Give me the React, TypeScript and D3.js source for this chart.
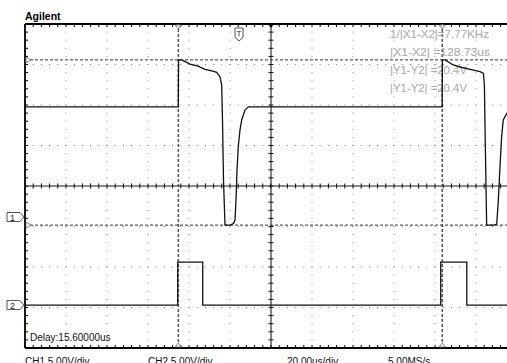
import React from "react";
import * as d3 from "d3";

const W = 507;
const H = 363;

// Scope settings
const timePerDiv = 20; // us/div
const ch1VoltsPerDiv = 5;
const ch2VoltsPerDiv = 5;
const delayUs = 15.6;
const ch1OffsetDiv = -0.766; // ground reference, divisions from centre
const ch2OffsetDiv = -2.94;

// Cursor positions
const cursorX = [-29.6, 99.13]; // us
const cursorY = [19.4, -1.0]; // V on CH1

// CH1 trace: [time us, volts]
const ch1Trace: [number, number][] = [
  [-104.4, 13.6],
  [-29.62, 13.6],
  [-29.5, 19.4],
  [-27.96, 19.39],
  [-23.9, 18.89],
  [-20.0, 18.64],
  [-16.6, 18.24],
  [-13.2, 18.03],
  [-10.9, 17.87],
  [-9.3, 17.32],
  [-8.45, 16.3],
  [-8.06, 11.98],
  [-7.57, 4.57],
  [-6.84, -1.0],
  [-4.4, -1.0],
  [-2.69, -0.8],
  [-1.96, -0.37],
  [-1.47, 2.1],
  [-0.98, 5.8],
  [-0.36, 8.68],
  [0.47, 10.74],
  [1.3, 11.98],
  [2.9, 13.21],
  [4.53, 13.6],
  [99.1, 13.6],
  [99.2, 19.4],
  [100.5, 19.39],
  [104.5, 18.77],
  [108.8, 18.46],
  [112.7, 18.24],
  [117.6, 17.94],
  [119.2, 17.74],
  [119.7, 16.3],
  [120.1, 9.51],
  [120.8, -1.0],
  [124.4, -1.0],
  [125.7, -0.86],
  [126.5, 2.1],
  [127.3, 6.21],
  [128.1, 9.92],
  [128.9, 11.98],
  [130.2, 12.6],
  [131.2, 13.0],
];

// CH2 trace: [time us, volts]
const ch2Trace: [number, number][] = [
  [-104.4, 0],
  [-29.9, 0],
  [-29.9, 5.3],
  [-17.7, 5.3],
  [-17.7, 0],
  [98.4, 0],
  [98.4, 5.3],
  [111.1, 5.3],
  [111.1, 0],
  [135.6, 0],
];

const readouts = [
  "1/|X1-X2|=7.77KHz",
  "|X1-X2| =128.73us",
  "|Y1-Y2| =20.4V",
  "|Y1-Y2| =20.4V",
];
const readoutWidths = [99, 100, 77, 77];

const footerLabels = ["CH1 5.00V/div", "CH2 5.00V/div", "20.00us/div", "5.00MS/s"];
const footerX = [25, 148, 287, 388];

const delayLabel = "Delay:15.60000us";

const HDIV = 12;
const VDIV = 8;

export default function App() {
  const left = 25;
  const right = 517;
  const xDiv = d3.scaleLinear().domain([0, HDIV]).range([left, right]);
  const yDiv = d3.scaleLinear().domain([-VDIV / 2, VDIV / 2]).range([348, 24]);
  const top = yDiv(VDIV / 2);
  const bottom = yDiv(-VDIV / 2);
  const half = (HDIV / 2) * timePerDiv;
  const xTime = d3
    .scaleLinear()
    .domain([delayUs - half, delayUs + half])
    .range([left, right]);
  const yCh1 = (v: number) => yDiv(v / ch1VoltsPerDiv + ch1OffsetDiv);
  const yCh2 = (v: number) => yDiv(v / ch2VoltsPerDiv + ch2OffsetDiv);

  const line1 = d3
    .line<[number, number]>()
    .x((d) => xTime(d[0]))
    .y((d) => yCh1(d[1]));
  const line2 = d3
    .line<[number, number]>()
    .x((d) => xTime(d[0]))
    .y((d) => yCh2(d[1]));

  const cx = xDiv(HDIV / 2);
  const cy = yDiv(0);

  // grid dots along each division line, one per minor tick
  const dots: { x: number; y: number }[] = [];
  for (let k = 1; k < HDIV; k++) {
    if (k === HDIV / 2) continue;
    for (let j = -VDIV * 5 / 2; j <= VDIV * 5 / 2; j++) {
      dots.push({ x: xDiv(k), y: yDiv(j / 5) });
    }
  }
  for (let k = -VDIV / 2 + 1; k < VDIV / 2; k++) {
    if (k === 0) continue;
    for (let j = 0; j <= HDIV * 5; j++) {
      dots.push({ x: xDiv(j / 5), y: yDiv(k) });
    }
  }

  const hTicks = d3.range(0, HDIV * 5 + 1).map((j) => xDiv(j / 5));
  const vTicks = d3.range(-VDIV * 5 / 2, VDIV * 5 / 2 + 1).map((j) => yDiv(j / 5));

  const font = "'Liberation Sans', Arial, sans-serif";

  const chanMarker = (label: string, yTip: number) => (
    <g key={label}>
      <path
        d={`M7,${yTip - 4.5} H20 L${left - 1},${yTip} L20,${yTip + 4.5} H7 Z`}
        fill="#fff"
        stroke="#555"
        strokeWidth={1}
      />
      <text x={12.5} y={yTip + 3.5} fontSize={9} fontFamily={font} textAnchor="middle" fill="#222">
        {label}
      </text>
    </g>
  );

  return (
    <svg
      width={W}
      height={H}
      style={{ position: "absolute", left: 0, top: 0, background: "#fff" }}
    >
      <rect x={0} y={0} width={W} height={H} fill="#fff" />

      {/* grid dots */}
      {dots.map((d, i) => (
        <rect key={i} x={d.x - 0.5} y={d.y - 0.5} width={1} height={1} fill="#8a8a8a" />
      ))}

      {/* centre axes */}
      <line x1={left} x2={right} y1={cy} y2={cy} stroke="#666" strokeWidth={1.6} />
      <line x1={cx} x2={cx} y1={top} y2={bottom} stroke="#666" strokeWidth={1.6} />
      {hTicks.map((x, i) => (
        <line key={"hc" + i} x1={x} x2={x} y1={cy - 2.5} y2={cy + 2.5} stroke="#111" strokeWidth={1} />
      ))}
      {vTicks.map((y, i) => (
        <line key={"vc" + i} x1={cx - 2.5} x2={cx + 2.5} y1={y} y2={y} stroke="#111" strokeWidth={1} />
      ))}

      {/* frame */}
      <line x1={left} x2={right} y1={top} y2={top} stroke="#000" strokeWidth={1.8} />
      <line x1={left} x2={right} y1={bottom} y2={bottom} stroke="#000" strokeWidth={1.8} />
      <line x1={left} x2={left} y1={top} y2={bottom} stroke="#000" strokeWidth={1.8} />
      {hTicks.map((x, i) => (
        <g key={"ft" + i}>
          <line x1={x} x2={x} y1={top} y2={top + 3} stroke="#000" strokeWidth={1} />
          <line x1={x} x2={x} y1={bottom - 3} y2={bottom} stroke="#000" strokeWidth={1} />
        </g>
      ))}
      {vTicks.map((y, i) => (
        <line key={"fl" + i} x1={left} x2={left + 3} y1={y} y2={y} stroke="#000" strokeWidth={1} />
      ))}

      {/* cursors */}
      {cursorX.map((t, i) => (
        <g key={"cx" + i}>
          <line
            x1={xTime(t)}
            x2={xTime(t)}
            y1={top}
            y2={bottom}
            stroke="#555"
            strokeWidth={1.5}
            strokeDasharray="3,2"
          />
          <path
            d={`M${xTime(t) - 3},${top + 1} L${xTime(t) + 3},${top + 1} L${xTime(t)},${top + 5} Z`}
            fill="#fff"
            stroke="#666"
            strokeWidth={0.8}
          />
          <path
            d={`M${xTime(t) - 3},${bottom - 1} L${xTime(t) + 3},${bottom - 1} L${xTime(t)},${bottom - 5} Z`}
            fill="#fff"
            stroke="#666"
            strokeWidth={0.8}
          />
        </g>
      ))}
      {cursorY.map((v, i) => (
        <g key={"cy" + i}>
          <line
            x1={left}
            x2={W}
            y1={yCh1(v)}
            y2={yCh1(v)}
            stroke="#333"
            strokeWidth={1}
            strokeDasharray="3,2"
          />
          <path
            d={`M${left + 1},${yCh1(v) - 3} L${left + 1},${yCh1(v) + 3} L${left + 6},${yCh1(v)} Z`}
            fill="#fff"
            stroke="#666"
            strokeWidth={0.8}
          />
        </g>
      ))}

      {/* delay reference and trigger point */}
      <path d={`M${cx - 3},${top} L${cx + 3},${top} L${cx},${top + 4} Z`} fill="#000" />
      <g>
        <path
          d={`M${xTime(0) - 4},${top + 4} H${xTime(0) + 4} V${top + 13.5} L${xTime(0)},${top + 17} L${xTime(0) - 4},${top + 13.5} Z`}
          fill="#fff"
          stroke="#444"
          strokeWidth={0.9}
        />
        <text x={xTime(0)} y={top + 12} fontSize={8} fontFamily={font} textAnchor="middle" fill="#222">
          T
        </text>
      </g>

      {/* cursor readouts */}
      {readouts.map((s, i) => (
        <text
          key={"ro" + i}
          x={390}
          y={37.5 + i * 18.1}
          fontSize={10.5}
          fontFamily={font}
          fill="#a8a8a8"
          textLength={readoutWidths[i]}
          lengthAdjust="spacingAndGlyphs"
        >
          {s}
        </text>
      ))}

      {/* waveforms */}
      <path d={line2(ch2Trace) || ""} fill="none" stroke="#111" strokeWidth={1.3} />
      <path d={line1(ch1Trace) || ""} fill="none" stroke="#111" strokeWidth={1.3} />

      {/* channel ground markers */}
      {chanMarker("1", yCh1(0))}
      {chanMarker("2", yCh2(0))}

      {/* labels */}
      <text x={left} y={19.5} fontSize={10.5} fontWeight="bold" fontFamily={font} fill="#000">
        Agilent
      </text>
      <text x={30} y={340.5} fontSize={10} fontFamily={font} fill="#111">
        {delayLabel}
      </text>
      {footerLabels.map((s, i) => (
        <text key={"fo" + i} x={footerX[i]} y={364.5} fontSize={10} fontFamily={font} fill="#111">
          {s}
        </text>
      ))}
    </svg>
  );
}
